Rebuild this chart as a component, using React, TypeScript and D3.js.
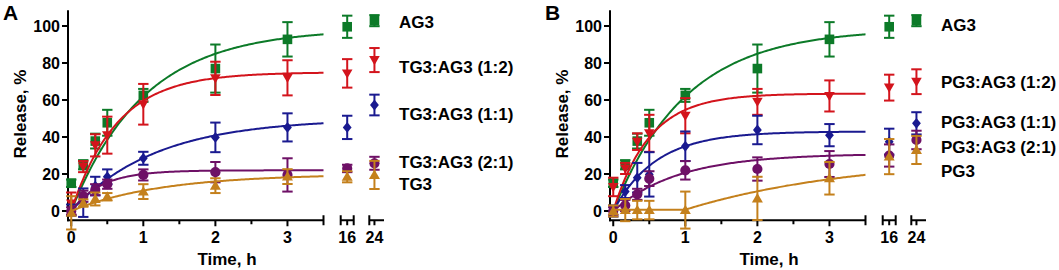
import React from "react";
import * as d3 from "d3";

// ---------- data ----------
const times = [0, 1 / 6, 1 / 3, 0.5, 1, 2, 3, 16, 24];

const yTicks = [0, 20, 40, 60, 80, 100];
const xMajorTicks = [0, 1, 2, 3];
const xMinorTicks = [0.5, 1.5, 2.5];
const xBreakTicks16 = [16];
const xBreakTicks24 = [24];

// AG3 (same in both panels)
const ag3Mean = [15, 25, 37.8, 47.7, 62.5, 77, 92.8, 99.6, 102.9];
const ag3Err = [2, 2.5, 4, 7, 3.5, 13, 9.3, 6, 3];

// Panel A
const namesA = ["AG3", "TG3:AG3 (1:2)", "TG3:AG3 (1:1)", "TG3:AG3 (2:1)", "TG3"];
const tgAg12Mean = [4, 24, 35.5, 41, 57.7, 71.7, 72, 74.4, 81.6];
const tgAg12Err = [6, 3, 6, 10, 11, 9, 9.5, 7.7, 6.5];
const tgAg11Mean = [0.5, 4.5, 13.5, 18.5, 28.5, 39.8, 45.2, 45.2, 57.3];
const tgAg11Err = [3, 7.7, 5, 4, 3.5, 8, 7.6, 6.3, 5.6];
const tgAg21Mean = [0, 8, 11.5, 14.5, 19.5, 21, 19.5, 23, 25.8];
const tgAg21Err = [2, 3, 3, 2.5, 3, 5.5, 9, 2, 3.5];
const tgMean = [-1, 4.3, 6.5, 7.7, 10.5, 13.7, 18.6, 18.5, 19.5];
const tgErr = [9, 2, 3.5, 2, 4, 4, 4, 3, 7.6];

// fitted one-phase association curves, panel A
const fitStartA = [0, 0, 0, 0, 0];
const fitPlateauA = [98.6, 75, 50, 22, 20];
const fitRateA = [0.99, 1.58, 0.85, 2.4, 0.8];
const fitLagA = [0, 0, 0, 0, 0];

// Panel B
const namesB = ["AG3", "PG3:AG3 (1:2)", "PG3:AG3 (1:1)", "PG3:AG3 (2:1)", "PG3"];
const pgAg12Mean = [13, 23, 37.5, 42, 51.5, 59, 62.2, 66.7, 69.9];
const pgAg12Err = [5, 3, 4.5, 10, 9.5, 7, 8.4, 7, 6.7];
const pgAg11Mean = [0, 10.5, 18, 19.8, 35, 43.8, 41, 37.5, 47.4];
const pgAg11Err = [3, 3.5, 8, 12, 8, 7.7, 6, 7, 6];
const pgAg21Mean = [0, 3, 9, 17.5, 22, 22.7, 25.4, 30, 38.4];
const pgAg21Err = [2, 3, 3, 4, 5, 6.3, 7, 6, 5];
const pgMean = [0, 0.5, 0.5, 0.5, 0.5, 6.8, 17.7, 29.4, 33];
const pgErr = [3, 6, 5, 5, 10, 11.7, 8.8, 9.5, 7.6];

const fitStartB = [0, 0, 0, 0, 0.7];
const fitPlateauB = [98.6, 63.5, 43, 31, 29.7];
const fitRateB = [0.99, 1.97, 1.68, 1.1, 0.42];
const fitLagB = [0, 0, 0, 0, 1];

// ---------- style ----------
const colors = ["#0c7a28", "#d3141c", "#1a1a90", "#6e1066", "#c4801c"];
const shapes = ["square", "triDown", "diamond", "circle", "triUp"];
const FONT = "'Liberation Sans', Arial, Helvetica, sans-serif";

const yScale = d3.scaleLinear().domain([-5, 108.5]).range([220.25, 10.3]);

function markerPath(shape: string, cx: number, cy: number): string {
  const p = d3.path();
  if (shape === "square") {
    p.rect(cx - 4.8, cy - 4.8, 9.6, 9.6);
  } else if (shape === "triDown") {
    p.moveTo(cx - 5.3, cy - 4);
    p.lineTo(cx + 5.3, cy - 4);
    p.lineTo(cx, cy + 5.2);
    p.closePath();
  } else if (shape === "triUp") {
    p.moveTo(cx - 5.5, cy + 4);
    p.lineTo(cx + 5.5, cy + 4);
    p.lineTo(cx, cy - 5.4);
    p.closePath();
  } else if (shape === "diamond") {
    p.moveTo(cx, cy - 5.4);
    p.lineTo(cx + 4.4, cy);
    p.lineTo(cx, cy + 5.4);
    p.lineTo(cx - 4.4, cy);
    p.closePath();
  } else {
    p.arc(cx, cy, 5.1, 0, Math.PI * 2);
  }
  return p.toString();
}

type Series = { name: string; mean: number[]; err: number[] };

function Panel(props: {
  x0: number;
  letter: string;
  series: Series[];
  fitStart: number[];
  fitPlateau: number[];
  fitRate: number[];
  fitLag: number[];
  legendY: number[];
}) {
  const { x0, letter, series, fitStart, fitPlateau, fitRate, fitLag, legendY } = props;
  const seg1 = d3.scaleLinear().domain([-0.045, 3.5]).range([x0, x0 + 255.5]);
  const seg2 = d3.scaleLinear().domain([15, 17]).range([x0 + 272.7, x0 + 285.7]);
  const seg3 = d3.scaleLinear().domain([23.3, 25.3]).range([x0 + 301.3, x0 + 316]);
  const xPos = (t: number) => (t <= 3.5 ? seg1(t) : t < 20 ? seg2(t) : seg3(t));
  const axisY = yScale(-5);
  const sw = 2;
  const curveTs = d3.range(0, 3.5001, 0.02);

  return (
    <g>
      <text x={x0 - 65} y={20} fontFamily={FONT} fontWeight="bold" fontSize={21}>
        {letter}
      </text>
      <line x1={x0} x2={x0} y1={yScale(108.5)} y2={axisY + 1} stroke="#000" strokeWidth={sw} />
      {yTicks.map((v) => (
        <g key={"yt" + v}>
          <line x1={x0 - 6} x2={x0} y1={yScale(v)} y2={yScale(v)} stroke="#000" strokeWidth={sw} />
          <text x={x0 - 8} y={yScale(v)} dy="0.36em" textAnchor="end" fontFamily={FONT} fontWeight="bold" fontSize={16}>
            {v}
          </text>
        </g>
      ))}
      <text
        transform={`translate(${x0 - 48},114) rotate(-90)`}
        textAnchor="middle"
        dominantBaseline="central"
        fontFamily={FONT}
        fontWeight="bold"
        fontSize={17}
      >
        Release, %
      </text>
      <line x1={x0 - 1} x2={seg1(3.5)} y1={axisY} y2={axisY} stroke="#000" strokeWidth={sw} />
      <line x1={seg1(3.5)} x2={seg1(3.5)} y1={axisY - 5} y2={axisY + 5} stroke="#000" strokeWidth={sw} />
      <line x1={seg2(15)} x2={seg2(17)} y1={axisY} y2={axisY} stroke="#000" strokeWidth={sw} />
      <line x1={seg2(15)} x2={seg2(15)} y1={axisY - 5} y2={axisY + 5} stroke="#000" strokeWidth={sw} />
      <line x1={seg2(17)} x2={seg2(17)} y1={axisY - 5} y2={axisY + 5} stroke="#000" strokeWidth={sw} />
      <line x1={seg3(23.3)} x2={seg3(25.3)} y1={axisY} y2={axisY} stroke="#000" strokeWidth={sw} />
      <line x1={seg3(23.3)} x2={seg3(23.3)} y1={axisY - 5} y2={axisY + 5} stroke="#000" strokeWidth={sw} />
      {xMajorTicks.map((t) => (
        <g key={"xt" + t}>
          <line x1={seg1(t)} x2={seg1(t)} y1={axisY} y2={axisY + 6} stroke="#000" strokeWidth={sw} />
          <text x={seg1(t)} y={axisY + 23} textAnchor="middle" fontFamily={FONT} fontWeight="bold" fontSize={16}>
            {t}
          </text>
        </g>
      ))}
      {xMinorTicks.map((t) => (
        <line key={"xm" + t} x1={seg1(t)} x2={seg1(t)} y1={axisY} y2={axisY + 4} stroke="#000" strokeWidth={sw} />
      ))}
      {xBreakTicks16.map((t) => (
        <g key={"xb" + t}>
          <line x1={seg2(t)} x2={seg2(t)} y1={axisY} y2={axisY + 5} stroke="#000" strokeWidth={sw} />
          <text x={seg2(t)} y={axisY + 23} textAnchor="middle" fontFamily={FONT} fontWeight="bold" fontSize={16}>
            {t}
          </text>
        </g>
      ))}
      {xBreakTicks24.map((t) => (
        <g key={"xc" + t}>
          <line x1={seg3(t)} x2={seg3(t)} y1={axisY} y2={axisY + 5} stroke="#000" strokeWidth={sw} />
          <text x={seg3(t)} y={axisY + 23} textAnchor="middle" fontFamily={FONT} fontWeight="bold" fontSize={16}>
            {t}
          </text>
        </g>
      ))}
      <text x={x0 + 159} y={265} textAnchor="middle" fontFamily={FONT} fontWeight="bold" fontSize={17}>
        Time, h
      </text>

      {series.map((s, i) => {
        const c = colors[i];
        const fit = (t: number) =>
          t <= fitLag[i]
            ? fitStart[i]
            : fitStart[i] + (fitPlateau[i] - fitStart[i]) * (1 - Math.exp(-fitRate[i] * (t - fitLag[i])));
        const path = d3
          .line<number>()
          .x((t) => seg1(t))
          .y((t) => yScale(fit(t)))(curveTs);
        return (
          <g key={s.name}>
            <path d={path || ""} fill="none" stroke={c} strokeWidth={2} />
            {times.map((t, j) => {
              const cx = xPos(t);
              const yTop = yScale(s.mean[j] + s.err[j]);
              const yBot = yScale(s.mean[j] - s.err[j]);
              return (
                <g key={j}>
                  <line x1={cx} x2={cx} y1={yTop} y2={yBot} stroke={c} strokeWidth={2} />
                  <line x1={cx - 5.2} x2={cx + 5.2} y1={yTop} y2={yTop} stroke={c} strokeWidth={2} />
                  <line x1={cx - 5.2} x2={cx + 5.2} y1={yBot} y2={yBot} stroke={c} strokeWidth={2} />
                  <path d={markerPath(shapes[i], cx, yScale(s.mean[j]))} fill={c} />
                </g>
              );
            })}
          </g>
        );
      })}
      {series.map((s, i) => (
        <text key={"lab" + i} x={x0 + 331} y={legendY[i] + 6} fontFamily={FONT} fontWeight="bold" fontSize={17}>
          {s.name}
        </text>
      ))}
    </g>
  );
}

export default function App() {
  const seriesA: Series[] = [
    { name: namesA[0], mean: ag3Mean, err: ag3Err },
    { name: namesA[1], mean: tgAg12Mean, err: tgAg12Err },
    { name: namesA[2], mean: tgAg11Mean, err: tgAg11Err },
    { name: namesA[3], mean: tgAg21Mean, err: tgAg21Err },
    { name: namesA[4], mean: tgMean, err: tgErr },
  ];
  const seriesB: Series[] = [
    { name: namesB[0], mean: ag3Mean, err: ag3Err },
    { name: namesB[1], mean: pgAg12Mean, err: pgAg12Err },
    { name: namesB[2], mean: pgAg11Mean, err: pgAg11Err },
    { name: namesB[3], mean: pgAg21Mean, err: pgAg21Err },
    { name: namesB[4], mean: pgMean, err: pgErr },
  ];
  return (
    <svg width={1059} height={270} style={{ position: "absolute", left: 0, top: 0, display: "block", background: "#fff" }}>
      <rect width={1059} height={270} fill="#fff" />
      <Panel
        x0={68}
        letter="A"
        series={seriesA}
        fitStart={fitStartA}
        fitPlateau={fitPlateauA}
        fitRate={fitRateA}
        fitLag={fitLagA}
        legendY={[22.2, 67, 114, 161.5, 184]}
      />
      <Panel
        x0={610}
        letter="B"
        series={seriesB}
        fitStart={fitStartB}
        fitPlateau={fitPlateauB}
        fitRate={fitRateB}
        fitLag={fitLagB}
        legendY={[25, 81.7, 121.7, 146.7, 171]}
      />
    </svg>
  );
}
